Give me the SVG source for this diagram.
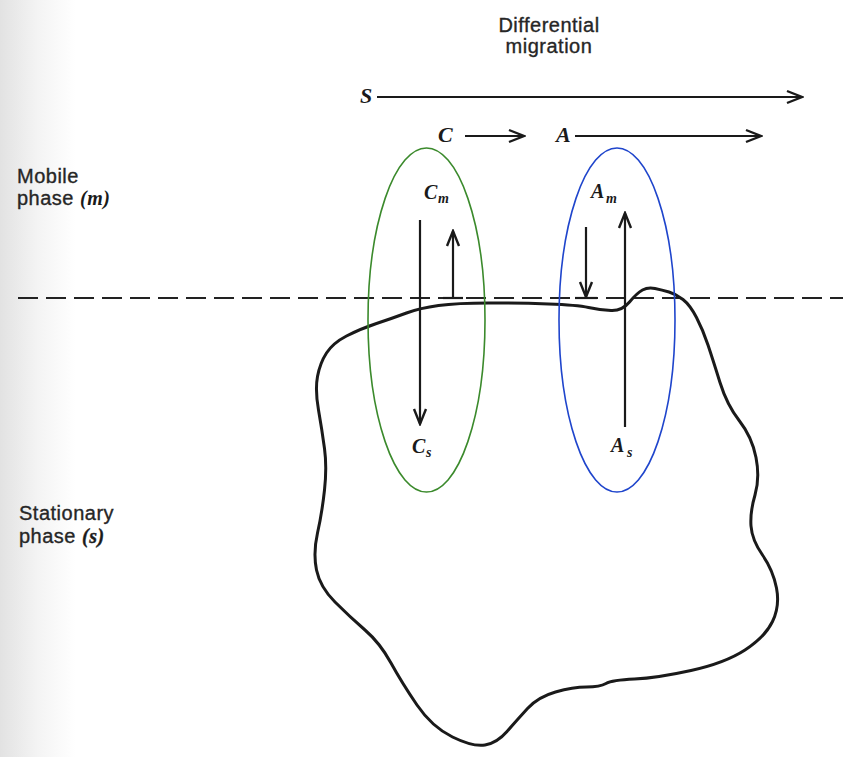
<svg xmlns="http://www.w3.org/2000/svg" width="843" height="757" viewBox="0 0 843 757">
  <defs>
    <linearGradient id="scanEdge" x1="0" y1="0" x2="1" y2="0">
      <stop offset="0" stop-color="#e2e2e2"/>
      <stop offset="0.045" stop-color="#f4f4f4"/>
      <stop offset="0.09" stop-color="#ffffff"/>
    </linearGradient>
    <marker id="arrow" viewBox="-17 -8 19 16" markerWidth="19" markerHeight="16" refX="0" refY="0" orient="auto" markerUnits="userSpaceOnUse">
      <path d="M-15,-6 L0,0 L-15,6" fill="none" stroke="#1a1a1a" stroke-width="2.4" stroke-linejoin="miter"/>
    </marker>
    <style>
      .sans { font-family: "Liberation Sans", Arial, sans-serif; font-size: 20px; fill: #262626; letter-spacing: 0.5px; stroke: #262626; stroke-width: 0.35px; }
      .sym { font-family: "Liberation Serif", "Times New Roman", serif; font-style: italic; font-weight: bold; fill: #1a1a1a; }
      .big { font-size: 22px; }
      .mid { font-size: 20px; }
      .sub { font-size: 14px; }
      .conn { stroke: #1a1a1a; stroke-width: 2.2; fill: none; }
      .dash { stroke: #222; stroke-width: 2; stroke-dasharray: 20 8; fill: none; }
      .blob { stroke: #1a1a1a; stroke-width: 3; fill: none; stroke-linejoin: round; }
      .ell { fill: none; stroke-width: 1.6; }
    </style>
  </defs>

  <rect x="0" y="0" width="843" height="757" fill="url(#scanEdge)"/>

  <g id="title">
    <text class="sans" x="549" y="32" text-anchor="middle">Differential</text>
    <text class="sans" x="549" y="53" text-anchor="middle">migration</text>
  </g>

  <g id="label-mobile">
    <text class="sans" x="17" y="183">Mobile</text>
    <text class="sans" x="17" y="205">phase <tspan class="sym" font-size="20" stroke="none">(m)</tspan></text>
  </g>

  <g id="label-stationary">
    <text class="sans" x="19" y="520">Stationary</text>
    <text class="sans" x="19" y="543">phase <tspan class="sym" font-size="20" font-weight="normal">(s)</tspan></text>
  </g>

  <g id="interface">
    <line class="dash" x1="18" y1="298" x2="843" y2="298"/>
  </g>

  <g id="stationary-phase">
    <path class="blob" d="M 326.5,353 Q 333,343 346.5,336 Q 360,329 376.5,323.5 Q 393,318 406.5,313 Q 420,308 438.5,305.5 Q 457,303 488.5,303 Q 520,303 548.5,304 Q 577,305 588.5,307.5 Q 600,310 611,310.5 Q 622,311 629.5,302 Q 637,293 642.5,290 Q 648,287 655,288.5 Q 662,290 669,292 Q 676,294 683,299.5 Q 690,305 696.5,317.5 Q 703,330 708,345 Q 713,360 720,382.5 Q 727,405 739.5,421 Q 752,437 756,457.5 Q 760,478 755,495 Q 750,512 751,526 Q 752,540 762.5,555 Q 773,570 776.5,588 Q 780,606 772.5,621.5 Q 765,637 745,650 Q 725,663 691,670.5 Q 657,678 634.5,679 Q 612,680 606,683.5 Q 600,687 586.5,687 Q 573,687 555.5,692 Q 538,697 527.5,708.5 Q 517,720 507,731.5 Q 497,743 485,745 Q 473,747 452.5,737 Q 432,727 417,705 Q 402,683 391,663 Q 380,643 365,630 Q 350,617 335,602 Q 320,587 316.5,570 Q 313,553 317.5,533 Q 322,513 324.5,490 Q 327,467 324.5,448.5 Q 322,430 318.5,410 Q 315,390 317.5,376.5 Q 320,363 326.5,353 Z"/>
  </g>

  <g id="solute-C">
    <ellipse class="ell" cx="426.5" cy="320" rx="58.5" ry="172" stroke="#3b8a2c"/>
    <text class="sym mid" x="424" y="199">C</text>
    <text class="sym sub" x="438" y="203">m</text>
    <text class="sym mid" x="412" y="453">C</text>
    <text class="sym sub" x="426" y="457">s</text>
  </g>

  <g id="solute-A">
    <ellipse class="ell" cx="617" cy="320" rx="58" ry="172" stroke="#1f45cc"/>
    <text class="sym mid" x="591" y="198">A</text>
    <text class="sym sub" x="606" y="203">m</text>
    <text class="sym mid" x="611" y="452">A</text>
    <text class="sym sub" x="627" y="457">s</text>
  </g>

  <g id="migration-labels">
    <text class="sym big" x="360" y="103">S</text>
    <text class="sym big" x="438" y="142">C</text>
    <text class="sym big" x="556" y="142">A</text>
  </g>

  <g id="connectors">
    <line class="conn" x1="377" y1="97" x2="802" y2="97" marker-end="url(#arrow)"/>
    <line class="conn" x1="465" y1="136" x2="524" y2="136" marker-end="url(#arrow)"/>
    <line class="conn" x1="575" y1="136" x2="761" y2="136" marker-end="url(#arrow)"/>
    <line class="conn" x1="420" y1="220" x2="420" y2="424" marker-end="url(#arrow)"/>
    <line class="conn" x1="453" y1="298" x2="453" y2="231" marker-end="url(#arrow)"/>
    <line class="conn" x1="443" y1="298" x2="463" y2="298"/>
    <line class="conn" x1="586" y1="227" x2="586" y2="297" marker-end="url(#arrow)"/>
    <line class="conn" x1="575" y1="298" x2="597" y2="298"/>
    <line class="conn" x1="625" y1="427" x2="625" y2="213" marker-end="url(#arrow)"/>
  </g>
</svg>
